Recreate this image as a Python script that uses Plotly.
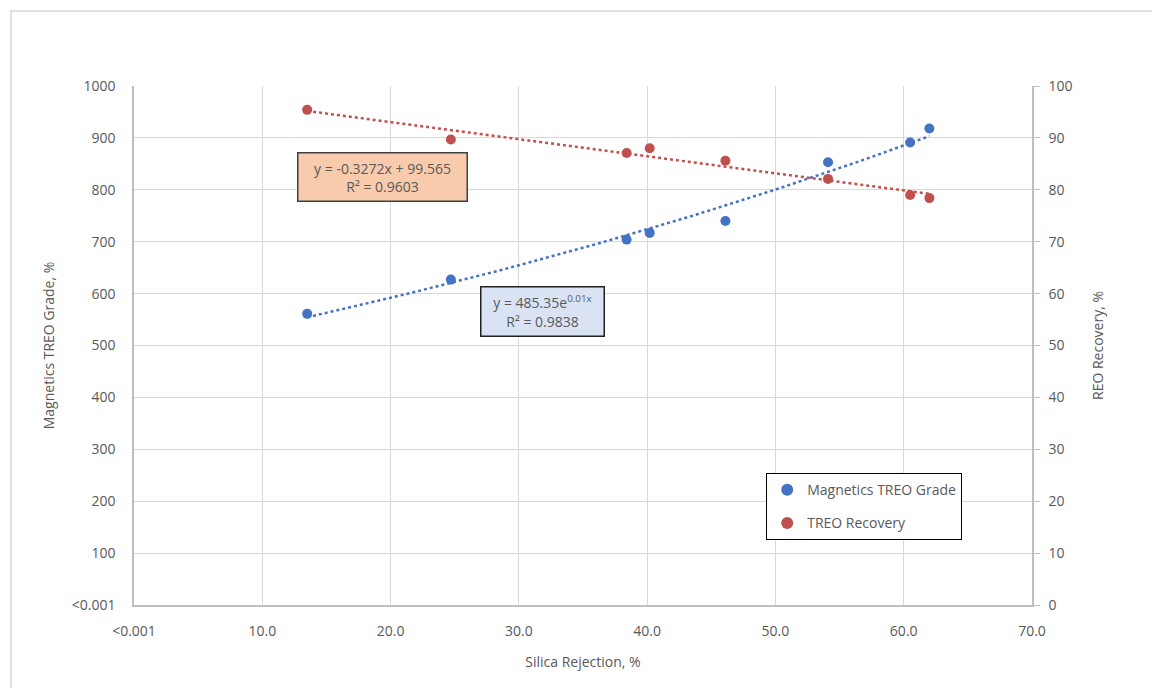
import numpy as np
import plotly.graph_objects as go

# ---- data ----
silica_rejection = [13.5, 24.7, 38.4, 40.2, 46.1, 54.1, 60.5, 62.0]
treo_grade = [561, 627, 704, 717, 740, 853, 891, 918]
treo_recovery = [95.4, 89.7, 87.1, 88.0, 85.6, 82.1, 79.0, 78.4]

x_tickvals = [0, 10, 20, 30, 40, 50, 60, 70]
x_ticktext = ["<0.001", "10.0", "20.0", "30.0", "40.0", "50.0", "60.0", "70.0"]
y1_tickvals = [0, 100, 200, 300, 400, 500, 600, 700, 800, 900, 1000]
y1_ticktext = ["<0.001", "100", "200", "300", "400", "500", "600", "700", "800", "900", "1000"]
y2_tickvals = [0, 10, 20, 30, 40, 50, 60, 70, 80, 90, 100]

grade_eq = "y = 485.35e<sup>0.01x</sup><br>R² = 0.9838"
recovery_eq = "y = -0.3272x + 99.565<br>R² = 0.9603"

BLUE = "#4472C4"
RED = "#C0504D"
TXT = "#595959"
GRID = "#D9D9D9"
FONT = "Open Sans"

# ---- trendlines fitted from the data ----
xs = np.array(silica_rejection)
xfit = np.linspace(xs.min(), xs.max(), 60)
b, ln_a = np.polyfit(xs, np.log(treo_grade), 1)
grade_fit = np.exp(ln_a) * np.exp(b * xfit)
m, c = np.polyfit(xs, treo_recovery, 1)
rec_fit = m * xfit + c

fig = go.Figure()
fig.add_trace(go.Scatter(x=xfit, y=grade_fit, mode="lines", showlegend=False,
                         line=dict(color=BLUE, width=2.5, dash="dot"), hoverinfo="skip"))
fig.add_trace(go.Scatter(x=xfit, y=rec_fit, mode="lines", showlegend=False, yaxis="y2",
                         line=dict(color=RED, width=2.5, dash="dot"), hoverinfo="skip"))
fig.add_trace(go.Scatter(x=silica_rejection, y=treo_grade, mode="markers",
                         name="Magnetics TREO Grade", legendgroup="a",
                         marker=dict(color=BLUE, size=10)))
fig.add_trace(go.Scatter(x=silica_rejection, y=treo_recovery, mode="markers",
                         name="TREO Recovery", legendgroup="b", yaxis="y2",
                         marker=dict(color=RED, size=10)))

fig.update_layout(
    width=1152, height=680,
    margin=dict(l=126, r=128, t=78, b=83),
    paper_bgcolor="white", plot_bgcolor="white",
    font=dict(family=FONT, size=14, color=TXT),
    xaxis=dict(range=[0, 70], tickvals=x_tickvals, ticktext=x_ticktext,
               showgrid=True, gridcolor=GRID, gridwidth=1,
               showline=True, linecolor="#BFBFBF", linewidth=1.5,
               zeroline=False, ticks="", ticklabelstandoff=12,
               title=dict(text="Silica Rejection, %", standoff=19,
                          font=dict(size=14, color=TXT))),
    yaxis=dict(range=[0, 1000], tickvals=y1_tickvals, ticktext=y1_ticktext,
               showgrid=True, gridcolor=GRID, gridwidth=1,
               showline=True, linecolor="#BFBFBF", linewidth=1.5,
               zeroline=False, ticks="", ticklabelstandoff=14,
               title=dict(text="Magnetics TREO Grade, %", standoff=14,
                          font=dict(size=14, color=TXT))),
    yaxis2=dict(range=[0, 100], tickvals=y2_tickvals, overlaying="y", side="right",
                showgrid=False, showline=True, linecolor="#BFBFBF", linewidth=1.5,
                zeroline=False, ticks="outside", ticklen=6, tickcolor="#BFBFBF",
                ticklabelstandoff=6,
                title=dict(text="REO Recovery, %", standoff=22,
                           font=dict(size=14, color=TXT))),
    legend=dict(x=0.704, y=0.254, xanchor="left", yanchor="top",
                bordercolor="black", borderwidth=1, bgcolor="white",
                font=dict(size=14, color=TXT), tracegroupgap=12,
                itemsizing="constant", itemwidth=30),
    showlegend=True,
)

fig.add_annotation(x=19.4, y=825, xref="x", yref="y", text=recovery_eq,
                   showarrow=False, bgcolor="#F8CBAD", bordercolor="#404040",
                   borderwidth=1.5, borderpad=5, font=dict(size=14, color=TXT),
                   align="center", width=158)
fig.add_annotation(x=31.85, y=566, xref="x", yref="y", text=grade_eq,
                   showarrow=False, bgcolor="#DAE3F3", bordercolor="#202020",
                   borderwidth=1.5, borderpad=5, font=dict(size=14, color=TXT),
                   align="center", width=112)

# outer chart-area border
fig.add_shape(type="rect", xref="paper", yref="paper",
              x0=-0.137, y0=-0.3, x1=1.3, y1=1.1445,
              line=dict(color="#D9D9D9", width=1.5), fillcolor="rgba(0,0,0,0)",
              layer="below")

fig.write_html("out.html")
